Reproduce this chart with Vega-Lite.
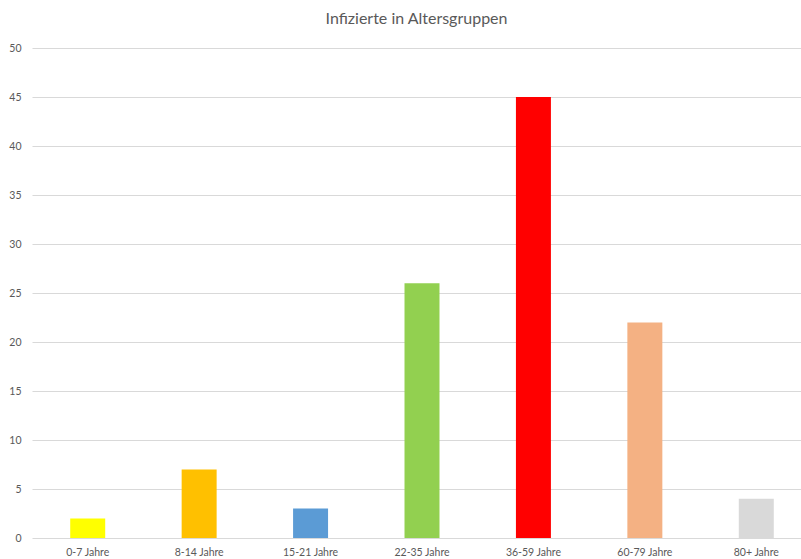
{
  "$schema": "https://vega.github.io/schema/vega-lite/v6.json",
  "autosize": {"type": "none"},
  "width": 769,
  "height": 490,
  "padding": {"left": 32, "top": 48, "right": 0, "bottom": 21},
  "background": "white",
  "title": {
    "text": "Infizierte in Altersgruppen",
    "font": "Lato",
    "fontSize": 16,
    "fontWeight": "normal",
    "color": "#595959",
    "anchor": "middle",
    "offset": 16
  },
  "data": {
    "values": [
      {"gruppe": "0-7 Jahre", "anzahl": 2, "farbe": "#FFFF00"},
      {"gruppe": "8-14 Jahre", "anzahl": 7, "farbe": "#FFC000"},
      {"gruppe": "15-21 Jahre", "anzahl": 3, "farbe": "#5B9BD5"},
      {"gruppe": "22-35 Jahre", "anzahl": 26, "farbe": "#92D050"},
      {"gruppe": "36-59 Jahre", "anzahl": 45, "farbe": "#FF0000"},
      {"gruppe": "60-79 Jahre", "anzahl": 22, "farbe": "#F4B183"},
      {"gruppe": "80+ Jahre", "anzahl": 4, "farbe": "#D9D9D9"}
    ]
  },
  "config": {
    "view": {"stroke": null},
    "font": "Lato"
  },
  "mark": {"type": "bar"},
  "encoding": {
    "x": {
      "field": "gruppe",
      "type": "nominal",
      "sort": null,
      "scale": {"range": [0, 780], "paddingInner": 0.686, "paddingOuter": 0.343},
      "axis": {
        "title": null,
        "labelAngle": 0,
        "ticks": false,
        "domain": false,
        "labelFontSize": 10.5,
        "labelColor": "#595959",
        "labelPadding": 9,
        "labelFont": "Lato"
      }
    },
    "y": {
      "field": "anzahl",
      "type": "quantitative",
      "scale": {"domain": [0, 50], "nice": false},
      "axis": {
        "title": null,
        "values": [0, 5, 10, 15, 20, 25, 30, 35, 40, 45, 50],
        "ticks": false,
        "domain": false,
        "gridColor": "#D9D9D9",
        "gridWidth": 1,
        "labelFontSize": 10.5,
        "labelColor": "#595959",
        "labelPadding": 11,
        "labelFont": "Lato"
      }
    },
    "color": {"field": "farbe", "type": "nominal", "scale": null, "legend": null}
  }
}
